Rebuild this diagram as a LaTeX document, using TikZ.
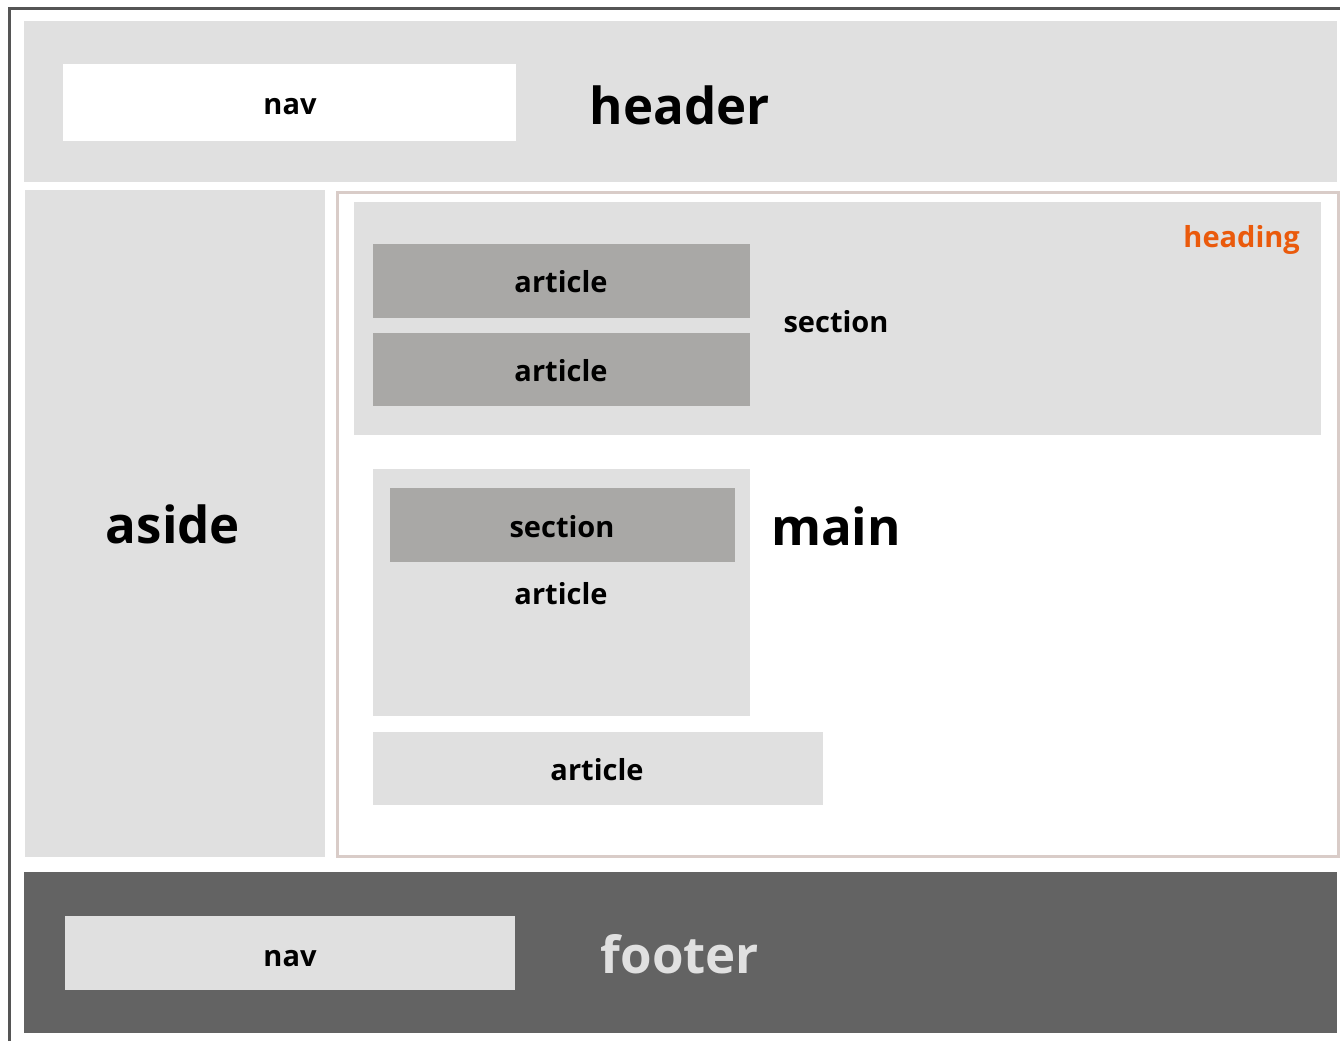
\documentclass[tikz,border=0pt]{standalone}
\usepackage{fontspec}
\setmainfont{Open Sans}
\definecolor{lg}{HTML}{E0E0E0}
\definecolor{dg}{HTML}{A9A8A6}
\definecolor{ft}{HTML}{636363}
\definecolor{mb}{HTML}{D9CCC8}
\definecolor{ob}{HTML}{555555}
\definecolor{hd}{HTML}{EA5A0C}
\begin{document}
\begin{tikzpicture}[x=1pt,y=-1pt,
  box/.style={rectangle,inner sep=0pt,outer sep=0pt,anchor=north west},
  small/.style={anchor=base,inner sep=0pt,font=\fontsize{29}{32}\selectfont\bfseries},
  big/.style={anchor=base,inner sep=0pt,font=\fontsize{51}{56}\selectfont\bfseries}]
\useasboundingbox[fill=white] (0,0) rectangle (1340,1041);
% outer border
\coordinate (ob1) at (9.5,1041);
\coordinate (ob2) at (9.5,9);
\coordinate (ob3) at (1340,9);
\draw[ob,line width=3pt] (ob1) -- (ob2) -- (ob3);
% header
\node[box,fill=lg,minimum width=1313,minimum height=161] (header) at (24,21) {};
\node[box,fill=white,minimum width=453,minimum height=77] (hnav) at (63,64) {};
\node[small] (hnavt) at (290,114) {nav};
\node[big] (headert) at (680,124) {header};
% aside
\node[box,fill=lg,minimum width=300,minimum height=667] (aside) at (25,190) {};
\node[big] (asidet) at (173,543) {aside};
% main
\node[box,draw=mb,line width=3pt,fill=white,minimum width=1001,minimum height=664] (main) at (337,192) {};
\node[big] (maint) at (836,545) {main};
% heading section
\node[box,fill=lg,minimum width=967,minimum height=233] (sec1) at (354,202) {};
\node[anchor=base east,inner sep=0pt,text=hd,font=\fontsize{29}{32}\selectfont\bfseries] (heading) at (1300,247) {heading};
\node[box,fill=dg,minimum width=377,minimum height=74] (art1) at (373,244) {};
\node[small] (art1t) at (561,292) {article};
\node[box,fill=dg,minimum width=377,minimum height=73] (art2) at (373,333) {};
\node[small] (art2t) at (561,381) {article};
\node[small] (sec1t) at (836,332) {section};
% article with section
\node[box,fill=lg,minimum width=377,minimum height=247] (art3) at (373,469) {};
\node[box,fill=dg,minimum width=345,minimum height=74] (sec2) at (390,488) {};
\node[small] (sec2t) at (562,537) {section};
\node[small] (art3t) at (561,604) {article};
% bottom article
\node[box,fill=lg,minimum width=450,minimum height=73] (art4) at (373,732) {};
\node[small] (art4t) at (597,780) {article};
% footer
\node[box,fill=ft,minimum width=1313,minimum height=161] (footer) at (24,872) {};
\node[box,fill=lg,minimum width=450,minimum height=74] (fnav) at (65,916) {};
\node[small] (fnavt) at (290,966) {nav};
\node[big,text=lg] (footert) at (680,973) {footer};
\end{tikzpicture}
\end{document}
